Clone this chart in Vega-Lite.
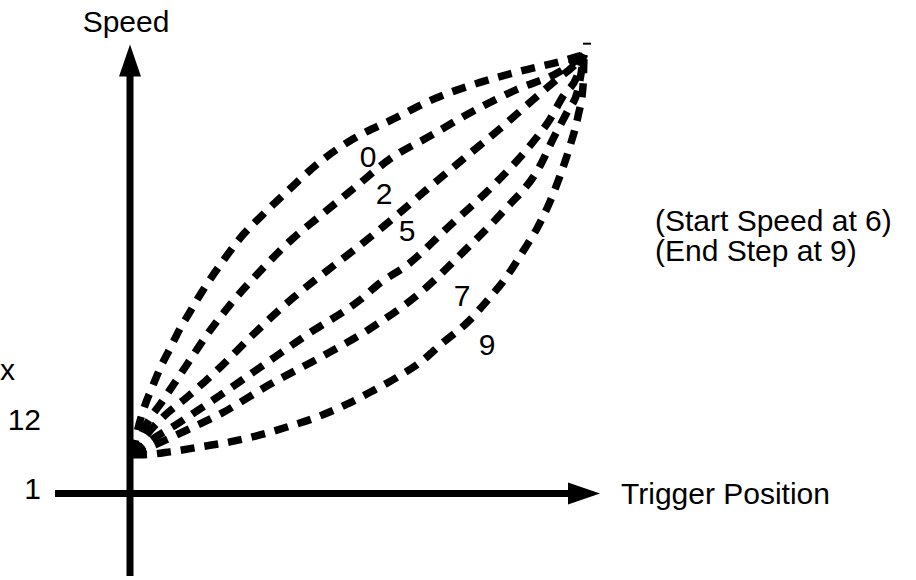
{
  "$schema": "https://vega.github.io/schema/vega-lite/v6.json",
  "width": 916,
  "height": 580,
  "padding": 0,
  "autosize": {"type": "fit", "contains": "padding"},
  "background": "white",
  "config": {"view": {"stroke": null}},
  "datasets": {
    "curves": [
      {"curve": "0", "pos": 3, "speed": 40}, {"curve": "0", "pos": 7, "speed": 61}, {"curve": "0", "pos": 15, "speed": 89}, {"curve": "0", "pos": 23, "speed": 109}, {"curve": "0", "pos": 30, "speed": 126}, {"curve": "0", "pos": 40, "speed": 146}, {"curve": "0", "pos": 50, "speed": 166}, {"curve": "0", "pos": 60, "speed": 183}, {"curve": "0", "pos": 70, "speed": 200}, {"curve": "0", "pos": 83, "speed": 220}, {"curve": "0", "pos": 90, "speed": 230}, {"curve": "0", "pos": 110, "speed": 257}, {"curve": "0", "pos": 135, "speed": 283}, {"curve": "0", "pos": 160, "speed": 307}, {"curve": "0", "pos": 190, "speed": 334}, {"curve": "0", "pos": 223, "speed": 357}, {"curve": "0", "pos": 263, "speed": 377}, {"curve": "0", "pos": 303, "speed": 397}, {"curve": "0", "pos": 350, "speed": 414}, {"curve": "0", "pos": 397, "speed": 427}, {"curve": "0", "pos": 430, "speed": 435}, {"curve": "0", "pos": 454, "speed": 442},
      {"curve": "2", "pos": 3, "speed": 39}, {"curve": "2", "pos": 15, "speed": 67}, {"curve": "2", "pos": 33, "speed": 94}, {"curve": "2", "pos": 57, "speed": 130}, {"curve": "2", "pos": 77, "speed": 160}, {"curve": "2", "pos": 100, "speed": 190}, {"curve": "2", "pos": 133, "speed": 227}, {"curve": "2", "pos": 163, "speed": 257}, {"curve": "2", "pos": 187, "speed": 277}, {"curve": "2", "pos": 227, "speed": 310}, {"curve": "2", "pos": 260, "speed": 337}, {"curve": "2", "pos": 300, "speed": 360}, {"curve": "2", "pos": 343, "speed": 385}, {"curve": "2", "pos": 387, "speed": 407}, {"curve": "2", "pos": 430, "speed": 425}, {"curve": "2", "pos": 454, "speed": 442},
      {"curve": "5", "pos": 3, "speed": 39}, {"curve": "5", "pos": 15, "speed": 57}, {"curve": "5", "pos": 33, "speed": 77}, {"curve": "5", "pos": 57, "speed": 97}, {"curve": "5", "pos": 90, "speed": 127}, {"curve": "5", "pos": 123, "speed": 160}, {"curve": "5", "pos": 163, "speed": 197}, {"curve": "5", "pos": 203, "speed": 229}, {"curve": "5", "pos": 230, "speed": 250}, {"curve": "5", "pos": 263, "speed": 277}, {"curve": "5", "pos": 300, "speed": 309}, {"curve": "5", "pos": 337, "speed": 340}, {"curve": "5", "pos": 373, "speed": 370}, {"curve": "5", "pos": 407, "speed": 400}, {"curve": "5", "pos": 427, "speed": 417}, {"curve": "5", "pos": 443, "speed": 430}, {"curve": "5", "pos": 454, "speed": 442},
      {"curve": "7", "pos": 3, "speed": 39}, {"curve": "7", "pos": 20, "speed": 53}, {"curve": "7", "pos": 47, "speed": 70}, {"curve": "7", "pos": 83, "speed": 94}, {"curve": "7", "pos": 130, "speed": 127}, {"curve": "7", "pos": 177, "speed": 160}, {"curve": "7", "pos": 230, "speed": 195}, {"curve": "7", "pos": 250, "speed": 212}, {"curve": "7", "pos": 277, "speed": 230}, {"curve": "7", "pos": 320, "speed": 270}, {"curve": "7", "pos": 363, "speed": 310}, {"curve": "7", "pos": 403, "speed": 354}, {"curve": "7", "pos": 420, "speed": 377}, {"curve": "7", "pos": 433, "speed": 400}, {"curve": "7", "pos": 447, "speed": 420}, {"curve": "7", "pos": 454, "speed": 442},
      {"curve": "8", "pos": 3, "speed": 39}, {"curve": "8", "pos": 25, "speed": 49}, {"curve": "8", "pos": 57, "speed": 64}, {"curve": "8", "pos": 90, "speed": 80}, {"curve": "8", "pos": 140, "speed": 110}, {"curve": "8", "pos": 190, "speed": 137}, {"curve": "8", "pos": 240, "speed": 166}, {"curve": "8", "pos": 290, "speed": 202}, {"curve": "8", "pos": 333, "speed": 243}, {"curve": "8", "pos": 373, "speed": 284}, {"curve": "8", "pos": 410, "speed": 330}, {"curve": "8", "pos": 423, "speed": 357}, {"curve": "8", "pos": 437, "speed": 384}, {"curve": "8", "pos": 448, "speed": 407}, {"curve": "8", "pos": 454, "speed": 442},
      {"curve": "9", "pos": 3, "speed": 39}, {"curve": "9", "pos": 10, "speed": 39}, {"curve": "9", "pos": 40, "speed": 42}, {"curve": "9", "pos": 70, "speed": 47}, {"curve": "9", "pos": 100, "speed": 52}, {"curve": "9", "pos": 130, "speed": 59}, {"curve": "9", "pos": 157, "speed": 67}, {"curve": "9", "pos": 187, "speed": 77}, {"curve": "9", "pos": 217, "speed": 90}, {"curve": "9", "pos": 240, "speed": 102}, {"curve": "9", "pos": 267, "speed": 117}, {"curve": "9", "pos": 290, "speed": 132}, {"curve": "9", "pos": 313, "speed": 152}, {"curve": "9", "pos": 337, "speed": 172}, {"curve": "9", "pos": 357, "speed": 194}, {"curve": "9", "pos": 377, "speed": 219}, {"curve": "9", "pos": 393, "speed": 244}, {"curve": "9", "pos": 407, "speed": 267}, {"curve": "9", "pos": 420, "speed": 294}, {"curve": "9", "pos": 430, "speed": 320}, {"curve": "9", "pos": 440, "speed": 350}, {"curve": "9", "pos": 448, "speed": 380}, {"curve": "9", "pos": 453, "speed": 410}, {"curve": "9", "pos": 454, "speed": 442}
    ],
    "axes": [
      {"name": "speed axis", "pos": 0, "speed": -83, "pos2": 0, "speed2": 421, "w": 7},
      {"name": "position axis", "pos": -75, "speed": 0, "pos2": 440, "speed2": 0, "w": 7},
      {"name": "tick", "pos": 453, "speed": 453, "pos2": 461, "speed2": 453, "w": 2}
    ],
    "uphead": [{"pos": 0, "speed": 436}],
    "righthead": [{"pos": 454, "speed": 0}],
    "labels": [
      {"text": "0", "pos": 238, "speed": 329, "align": "center"},
      {"text": "2", "pos": 254, "speed": 292, "align": "center"},
      {"text": "5", "pos": 277, "speed": 254, "align": "center"},
      {"text": "7", "pos": 332, "speed": 189, "align": "center"},
      {"text": "9", "pos": 357, "speed": 140, "align": "center"},
      {"text": "Speed", "pos": -4, "speed": 465, "align": "center"},
      {"text": "(Start Speed at 6)", "pos": 525, "speed": 264, "align": "left"},
      {"text": "(End Step at 9)", "pos": 525, "speed": 234, "align": "left"},
      {"text": "Trigger Position", "pos": 700, "speed": -10, "align": "right"},
      {"text": "x", "pos": -130, "speed": 114, "align": "left"},
      {"text": "12", "pos": -89, "speed": 64, "align": "right"},
      {"text": "1", "pos": -89, "speed": -5, "align": "right"}
    ]
  },
  "encoding": {
    "x": {"field": "pos", "type": "quantitative", "scale": {"domain": [-130, 786], "nice": false, "zero": false}, "axis": null},
    "y": {"field": "speed", "type": "quantitative", "scale": {"domain": [-83, 497], "nice": false, "zero": false}, "axis": null}
  },
  "layer": [
    {
      "data": {"name": "curves"},
      "mark": {"type": "line", "color": "black", "strokeWidth": 7.5, "strokeDash": [14, 10], "interpolate": "monotone", "strokeCap": "butt"},
      "encoding": {"detail": {"field": "curve", "type": "nominal"}}
    },
    {
      "data": {"name": "axes"},
      "mark": {"type": "rule", "color": "black", "strokeCap": "butt"},
      "encoding": {
        "x2": {"field": "pos2"},
        "y2": {"field": "speed2"},
        "strokeWidth": {"field": "w", "type": "quantitative", "scale": null}
      }
    },
    {
      "data": {"name": "uphead"},
      "mark": {"type": "point", "shape": "M0,-1L-0.6875,1L0.6875,1Z", "size": 1024, "filled": true, "color": "black", "opacity": 1}
    },
    {
      "data": {"name": "righthead"},
      "mark": {"type": "point", "shape": "M1,0L-1,-0.6875L-1,0.6875Z", "size": 1024, "filled": true, "color": "black", "opacity": 1}
    },
    {
      "data": {"name": "labels"},
      "transform": [{"filter": "datum.align == 'center'"}],
      "mark": {"type": "text", "align": "center", "baseline": "alphabetic", "font": "Liberation Sans", "fontSize": 30, "color": "black"},
      "encoding": {"text": {"field": "text"}}
    },
    {
      "data": {"name": "labels"},
      "transform": [{"filter": "datum.align == 'left'"}],
      "mark": {"type": "text", "align": "left", "baseline": "alphabetic", "font": "Liberation Sans", "fontSize": 30, "color": "black"},
      "encoding": {"text": {"field": "text"}}
    },
    {
      "data": {"name": "labels"},
      "transform": [{"filter": "datum.align == 'right'"}],
      "mark": {"type": "text", "align": "right", "baseline": "alphabetic", "font": "Liberation Sans", "fontSize": 30, "color": "black"},
      "encoding": {"text": {"field": "text"}}
    }
  ]
}
